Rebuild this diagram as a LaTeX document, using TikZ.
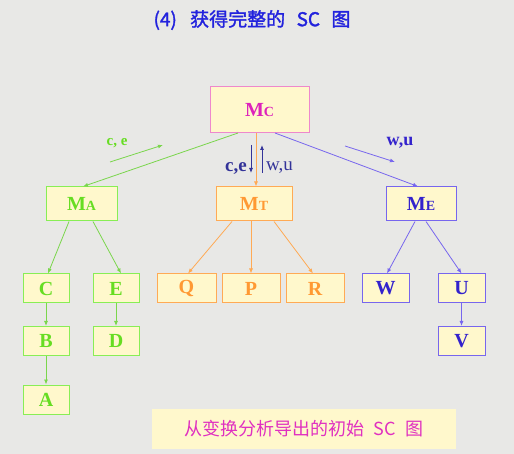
\documentclass[tikz,border=0pt]{standalone}
\usepackage{fontspec}
\usetikzlibrary{arrows.meta}
\setmainfont{Liberation Serif}
\newfontfamily\cjkb[FakeBold=1.6]{Noto Sans CJK SC}
\newfontfamily\cjkr{Noto Sans CJK SC}
\definecolor{bg}{HTML}{E8E8E6}
\definecolor{boxfill}{HTML}{FFF8CC}
\definecolor{gtxt}{HTML}{66DD22}
\definecolor{gline}{HTML}{88EE55}
\definecolor{otxt}{HTML}{FF9933}
\definecolor{oline}{HTML}{FFAA55}
\definecolor{btxt}{HTML}{3322CC}
\definecolor{bline}{HTML}{7766EE}
\definecolor{mtxt}{HTML}{DD22BB}
\definecolor{mline}{HTML}{EE88CC}
\definecolor{navy}{HTML}{333399}
\definecolor{titleblue}{HTML}{2222DD}
\definecolor{captxt}{HTML}{E030C0}
\newcommand{\sub}[1]{{\fontsize{14}{14}\selectfont #1}}
\begin{document}
\begin{tikzpicture}[x=1pt,y=-1pt,
  box/.style={draw, fill=boxfill, line width=1pt, inner sep=0pt,
    font=\bfseries\fontsize{20}{20}\selectfont},
  gbox/.style={box, draw=gline, text=gtxt},
  obox/.style={box, draw=oline, text=otxt},
  bbox/.style={box, draw=bline, text=btxt},
  mbox/.style={box, draw=mline, text=mtxt},
  leaf/.style={minimum height=29pt},
  mid/.style={minimum height=34pt},
  arr/.style={-{Latex[length=5pt,width=4pt]}, line width=0.8pt},
  garr/.style={arr, draw=gline!90!black},
  oarr/.style={arr, draw=oline},
  barr/.style={arr, draw=bline},
  lab/.style={inner sep=0pt, font=\bfseries\fontsize{18}{18}\selectfont}
]
\fill[bg] (0,0) rectangle (514,454);
\useasboundingbox (0,0) rectangle (514,454);

% title
\node[text=titleblue, font=\cjkb\fontsize{19}{19}\selectfont] (title) at (252,20) {(4)\hspace{0.7em}获得完整的\hspace{0.6em}SC\hspace{0.6em}图};

% nodes
\node[mbox, minimum width=99pt, minimum height=46pt] (MC) at (259.5,110) {M\sub{C}};
\node[gbox, mid, minimum width=71pt] (MA) at (81.5,204) {M\sub{A}};
\node[obox, mid, minimum width=76pt] (MT) at (254,204) {M\sub{T}};
\node[bbox, mid, minimum width=70pt] (ME) at (421,204) {M\sub{E}};

\node[gbox, leaf, minimum width=46pt] (C) at (46,288.5) {C};
\node[gbox, leaf, minimum width=46pt] (E) at (116,288.5) {E};
\node[gbox, leaf, minimum width=46pt] (B) at (46,341) {B};
\node[gbox, leaf, minimum width=46pt] (D) at (116,341) {D};
\node[gbox, leaf, minimum width=46pt] (A) at (46,399.5) {A};

\node[obox, leaf, minimum width=59pt] (Q) at (186.5,288.5) {Q};
\node[obox, leaf, minimum width=58pt] (P) at (251,288.5) {P};
\node[obox, leaf, minimum width=58pt] (R) at (315,288.5) {R};

\node[bbox, leaf, minimum width=47pt] (W) at (385.5,288.5) {W};
\node[bbox, leaf, minimum width=47pt] (U) at (461.5,288.5) {U};
\node[bbox, leaf, minimum width=47pt] (V) at (461.5,341) {V};

% caption
\node[fill=boxfill, minimum width=304pt, minimum height=40pt, inner sep=0pt,
  text=captxt, font=\cjkr\fontsize{18}{18}\selectfont] (cap) at (304,429) {从变换分析导出的初始\hspace{0.5em}SC\hspace{0.5em}图};

% connectors from MC
\coordinate (mca) at (238,133);
\coordinate (mct) at (256,133);
\coordinate (mce) at (275,133);
\draw[garr] (mca) -- (MA.north -| 83,0);
\draw[oarr] (mct) -- (mct |- MT.north);
\draw[barr] (mce) -- (MA.north -| 418,0);

% data-flow labels
\node[lab, text=gtxt, font=\bfseries\fontsize{15}{15}\selectfont] (lce) at (117,143) {c, e};
\coordinate (g1) at (110,162);
\coordinate (g2) at (163,145);
\draw[garr] (g1) -- (g2);

\node[lab, text=navy, anchor=east, font=\bfseries\fontsize{19}{19}\selectfont] (lce2) at (247,168) {c,e};
\coordinate (d1) at (251,145);
\coordinate (d2) at (251,173);
\draw[arr, draw=navy] (d1) -- (d2);
\coordinate (u1) at (262,173);
\coordinate (u2) at (262,145);
\draw[arr, draw=navy] (u1) -- (u2);
\node[lab, text=navy, anchor=west, font=\fontsize{19}{19}\selectfont] (lwu2) at (266,168) {w,u};

\node[lab, text=btxt] (lwu) at (400,143) {w,u};
\coordinate (b1) at (345,146);
\coordinate (b2) at (395,162);
\draw[barr] (b1) -- (b2);

% MA children
\draw[garr] (MA.south -| 69,0) -- (C.north -| 48,0);
\draw[garr] (MA.south -| 93,0) -- (E.north -| 121,0);
\draw[garr] (C) -- (B);
\draw[garr] (B) -- (A);
\draw[garr] (E) -- (D);

% MT children
\draw[oarr] (MT.south -| 232,0) -- (Q.north -| 188,0);
\draw[oarr] (MT.south -| 251,0) -- (P.north);
\draw[oarr] (MT.south -| 274,0) -- (R.north -| 313,0);

% ME children
\draw[barr] (ME.south -| 415,0) -- (W.north -| 387,0);
\draw[barr] (ME.south -| 426,0) -- (U.north);
\draw[barr] (U) -- (V);
\end{tikzpicture}
\end{document}
